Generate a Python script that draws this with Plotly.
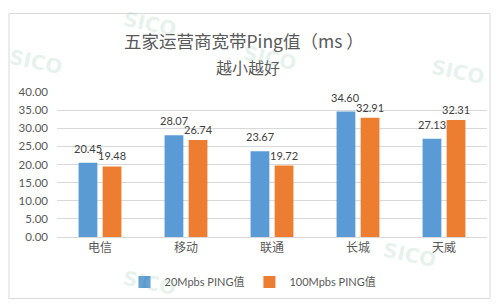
import plotly.graph_objects as go

categories = ["电信", "移动", "联通", "长城", "天威"]
ping_20m = [20.45, 28.07, 23.67, 34.60, 27.13]
ping_100m = [19.48, 26.74, 19.72, 32.91, 32.31]
series_names = ["20Mpbs PING值", "100Mpbs PING值"]
series_colors = ["#5B9BD5", "#ED7D31"]
y_ticks = [0, 5, 10, 15, 20, 25, 30, 35, 40]
y_tick_labels = [f"{v:.2f}" for v in y_ticks]

CJK = "Noto Sans CJK SC"
NUM = "Lato, Noto Sans CJK SC"
GRAY = "#595959"

L, R, T, B = 57, 9, 92, 66
W = 496 - L - R
H = 304 - T - B
BARGAP, GROUPGAP = 0.44, 0.22

fig = go.Figure()
for name, vals, col in zip(series_names, [ping_20m, ping_100m], series_colors):
    fig.add_trace(go.Bar(x=categories, y=vals, name=name,
                         marker=dict(color=col, line=dict(width=0))))


def py(pix):
    return (304 - B - pix) / H


def px(pix):
    return (pix - L) / W


annotations = [
    dict(text="五家运营商宽带Ping值（ms ）", x=px(244), y=py(40), xref="paper", yref="paper",
         showarrow=False, font=dict(size=17.5, color=GRAY, family=CJK), xanchor="center", yanchor="middle"),
    dict(text="越小越好", x=px(248), y=py(67), xref="paper", yref="paper",
         showarrow=False, font=dict(size=16, color=GRAY, family=CJK), xanchor="center", yanchor="middle"),
]

# data labels above each bar (offset to each bar of the group)
cat_px = W / len(categories)
slot = (1 - BARGAP) * cat_px / 2
label_lift = [6, 2]
for s, vals in enumerate([ping_20m, ping_100m]):
    xs = (s - 0.5) * slot
    for c, v in zip(categories, vals):
        annotations.append(dict(text=f"{v:.2f}", x=c, y=v, xref="x", yref="y",
                                showarrow=False, xanchor="center", yanchor="bottom",
                                xshift=xs, yshift=label_lift[s],
                                font=dict(size=11, color="#404040", family=NUM)))

# faint watermarks
for (wx, wy) in [(150, 24), (36, 62), (458, 72), (150, 284), (410, 256), (270, 58)]:
    annotations.append(dict(text="<b>SICO</b>", x=px(wx), y=py(wy), xref="paper", yref="paper",
                            showarrow=False, textangle=12,
                            font=dict(size=20, color="rgba(150,200,175,0.22)", family="DejaVu Sans"),
                            xanchor="center", yanchor="middle"))

fig.update_layout(
    width=496, height=304,
    margin=dict(l=L, r=R, t=T, b=B),
    paper_bgcolor="white", plot_bgcolor="white",
    barmode="group", bargap=BARGAP, bargroupgap=GROUPGAP,
    font=dict(family=NUM, color=GRAY, size=11),
    showlegend=True,
    legend=dict(orientation="h", x=px(253), xanchor="center", y=py(282), yanchor="middle",
                font=dict(size=11, color=GRAY, family=NUM), itemwidth=30,
                traceorder="normal", bgcolor="rgba(0,0,0,0)"),
    annotations=annotations,
    shapes=[dict(type="rect", xref="paper", yref="paper",
                 x0=px(9), x1=px(490), y0=py(300), y1=py(13),
                 line=dict(color="#D9D9D9", width=1), layer="below")],
    xaxis=dict(showline=True, linecolor="#D9D9D9", ticks="", showgrid=False,
               tickfont=dict(size=12, color=GRAY, family=CJK)),
    yaxis=dict(range=[0, 40], tickvals=y_ticks, ticktext=y_tick_labels,
               showgrid=True, gridcolor="#D9D9D9", gridwidth=1, zeroline=False,
               showline=False, ticks="", ticklabelstandoff=8,
               tickfont=dict(size=11.5, color=GRAY, family=NUM)),
)

fig.write_html("out.html")
